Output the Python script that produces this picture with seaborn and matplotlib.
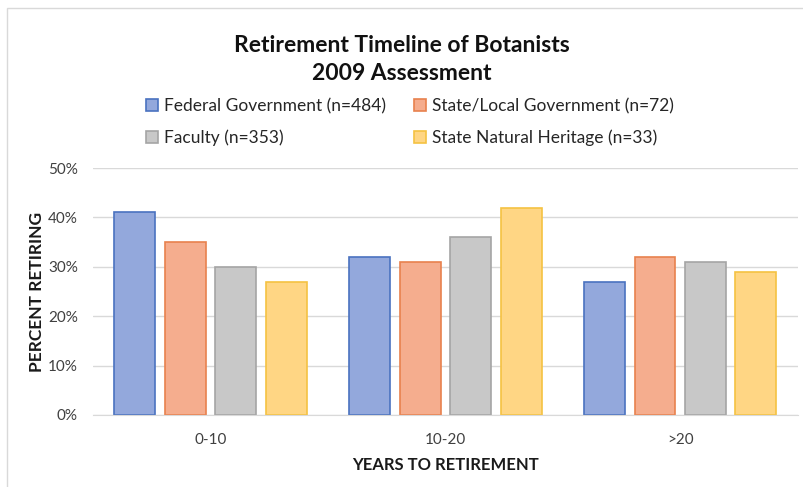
# Retirement timeline of botanists, 2009 assessment - grouped bar chart

import pandas as pd
import numpy as np
import matplotlib
matplotlib.use('Agg')
import matplotlib.pyplot as plt
import seaborn as sns
from matplotlib.patches import Rectangle
from matplotlib.ticker import PercentFormatter

# ─────────────────────────────────────────
# DATA
# ─────────────────────────────────────────
categories = ['0-10', '10-20', '>20']
groups = ['Federal Government (n=484)',
          'State/Local Government (n=72)',
          'Faculty (n=353)',
          'State Natural Heritage (n=33)']
federal = [0.41, 0.32, 0.27]
state_local = [0.35, 0.31, 0.32]
faculty = [0.30, 0.36, 0.31]
heritage = [0.27, 0.42, 0.29]

fill_colors = ['#93A8DC', '#F5AD8E', '#C8C8C8', '#FFD684']
edge_colors = ['#4A72C0', '#E8814E', '#A5A5A5', '#F5C242']

df = pd.DataFrame({
    'years': categories * 4,
    'group': np.repeat(groups, 3),
    'pct': federal + state_local + faculty + heritage,
})

# ─────────────────────────────────────────
# PLOT
# ─────────────────────────────────────────
sns.set_style("white")
plt.rcParams['font.family'] = ['Lato', 'DejaVu Sans']

fig = plt.figure(figsize=(8.04, 4.87), dpi=100)
ax = fig.add_axes([0.116, 0.148, 0.876, 0.507])

sns.barplot(data=df, x='years', y='pct', hue='group', order=categories,
            hue_order=groups, palette=fill_colors, saturation=1, width=0.86,
            gap=0.19, linewidth=1.2, ax=ax, legend=True)

# edge colour per series
for cont, ec in zip(ax.containers, edge_colors):
    for bar in cont:
        bar.set_edgecolor(ec)

ax.set_ylim(0, 0.5)
ax.set_yticks(np.arange(0, 0.51, 0.1))
ax.yaxis.set_major_formatter(PercentFormatter(1.0, decimals=0))
ax.set_xlim(-0.5, 2.5)
ax.grid(axis='y', color='#D9D9D9', linewidth=1)
ax.set_axisbelow(True)
for s in ['top', 'right', 'left']:
    ax.spines[s].set_visible(False)
ax.spines['bottom'].set_color('#D9D9D9')
ax.tick_params(axis='both', length=0, labelsize=11, colors='#404040', pad=11)
ax.tick_params(axis='x', pad=13)

ax.set_xlabel('YEARS TO RETIREMENT', fontsize=12, fontweight='bold',
              color='#1a1a1a', labelpad=7)
ax.set_ylabel('PERCENT RETIRING', fontsize=12.5, fontweight='bold',
              color='#1a1a1a')
ax.yaxis.set_label_coords(-0.068, 0.5)

# legend above plot, filled row by row
handles, labels = ax.get_legend_handles_labels()
ax.get_legend().remove()
for h, ec in zip(handles, edge_colors):
    h.set_edgecolor(ec)
order = [0, 2, 1, 3]
fig.legend([handles[i] for i in order], [labels[i] for i in order], ncol=2,
           loc='center', bbox_to_anchor=(0.51, 0.749), frameon=False,
           fontsize=12.5, handlelength=0.7, handleheight=0.7,
           handletextpad=0.35, columnspacing=1.6, labelspacing=0.9,
           labelcolor='#262626')

fig.text(0.5, 0.907, 'Retirement Timeline of Botanists', ha='center',
         va='center', fontsize=16.5, fontweight='bold', color='#111111')
fig.text(0.5, 0.850, '2009 Assessment', ha='center', va='center',
         fontsize=16.5, fontweight='bold', color='#111111')

# chart frame
fig.patches.append(Rectangle((0.009, -0.01), 1.0, 0.994, transform=fig.transFigure,
                             fill=False, edgecolor='#D9D9D9', linewidth=1))

fig.savefig('out.png', dpi=100)
plt.close(fig)
